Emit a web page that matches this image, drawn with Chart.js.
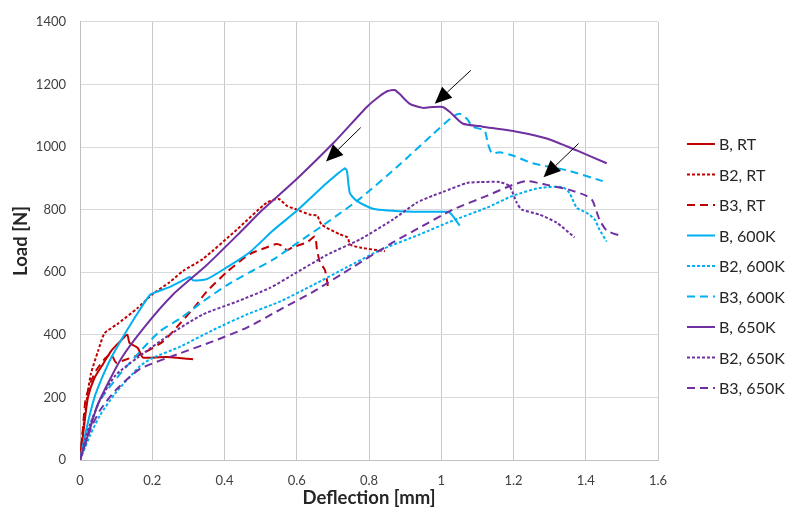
<!DOCTYPE html>
<html><head><meta charset="utf-8">
<script src="https://cdn.jsdelivr.net/npm/chart.js@4.4.1/dist/chart.umd.min.js"></script>
<style>html,body{margin:0;padding:0;background:#fff}#wrap{width:792px;height:515px}</style>
</head><body><div id="wrap"><canvas id="c" width="792" height="515"></canvas></div>
<script>
// ---- data (Deflection [mm], Load [N]) ----
const seriesNames = ['B, RT','B2, RT','B3, RT','B, 600K','B2, 600K','B3, 600K','B, 650K','B2, 650K','B3, 650K'];
const xTickLabels = ['0','0.2','0.4','0.6','0.8','1','1.2','1.4','1.6'];
const yTickLabels = ['0','200','400','600','800','1000','1200','1400'];

const bRT_x = [0,0.010,0.022,0.040,0.064,0.086,0.111,0.131,0.137,0.160,0.168,0.174,0.193,0.241,0.313];
const bRT_y = [0,95,200,262,307,348,379,400,374,358,338,327,327,329,322];

const b2RT_x = [0,0.006,0.013,0.021,0.030,0.050,0.068,0.102,0.158,0.199,0.249,0.285,0.340,0.434,0.517,0.550,0.573,0.600,0.636,0.656,0.669,0.719,0.741,0.747,0.775,0.844];
const b2RT_y = [0,70,140,210,275,348,405,433,484,528,569,604,642,736,822,834,812,800,784,781,752,721,711,689,679,667];

const b3RT_x = [0,0.008,0.015,0.030,0.047,0.070,0.086,0.100,0.120,0.174,0.230,0.277,0.318,0.350,0.406,0.470,0.516,0.544,0.562,0.573,0.589,0.628,0.650,0.656,0.664,0.678,0.686];
const b3RT_y = [0,100,190,250,290,325,338,311,318,341,379,436,490,537,600,658,679,690,683,670,680,695,714,673,632,607,556];

const b600_x = [0,0.020,0.040,0.060,0.086,0.133,0.166,0.194,0.212,0.249,0.277,0.304,0.313,0.351,0.407,0.470,0.534,0.600,0.683,0.733,0.739,0.747,0.766,0.811,0.921,1.018,1.029,1.051];
const b600_y = [0,110,200,260,326,420,481,528,537,553,569,585,574,578,616,664,733,796,885,932,923,853,828,803,793,793,784,749];

const b2600_x = [0,0.028,0.055,0.097,0.166,0.199,0.277,0.368,0.462,0.553,0.645,0.739,0.830,0.941,1.032,1.126,1.198,1.272,1.336,1.355,1.375,1.402,1.425,1.438,1.458];
const b2600_y = [0,79,142,212,300,325,362,415,465,506,559,616,670,721,765,806,844,869,872,853,806,790,768,736,698];

const b3600_x = [0,0.028,0.055,0.111,0.172,0.221,0.277,0.340,0.407,0.470,0.534,0.600,0.683,0.775,0.885,0.976,1.032,1.051,1.071,1.087,1.120,1.129,1.140,1.162,1.198,1.253,1.347,1.447];
const b3600_y = [0,111,190,275,354,411,452,506,559,600,640,692,758,835,944,1040,1097,1106,1090,1065,1052,1011,980,983,973,948,926,891];

const b650_x = [0,0.025,0.050,0.113,0.180,0.257,0.351,0.443,0.506,0.600,0.700,0.794,0.830,0.852,0.871,0.885,0.913,0.949,0.977,1.004,1.024,1.059,1.115,1.209,1.292,1.375,1.458];
const b650_y = [0,90,180,322,427,528,623,727,800,898,1011,1128,1163,1179,1182,1169,1138,1125,1128,1128,1112,1075,1065,1049,1027,989,948];

const b2650_x = [0,0.022,0.055,0.097,0.158,0.249,0.340,0.434,0.526,0.589,0.683,0.775,0.866,0.932,0.976,1.004,1.071,1.107,1.162,1.189,1.209,1.223,1.272,1.320,1.369];
const b2650_y = [0,95,190,269,326,401,465,506,550,592,655,705,768,822,844,856,885,888,888,875,822,800,784,758,711];

const b3650_x = [0,0.028,0.055,0.097,0.166,0.277,0.368,0.462,0.553,0.645,0.755,0.866,0.941,1.032,1.126,1.198,1.237,1.292,1.355,1.402,1.419,1.438,1.458,1.494];
const b3650_y = [0,95,158,221,291,341,379,423,480,537,616,695,743,800,844,879,891,879,863,844,828,768,733,717];

// arrows: tail -> head (data coordinates)
const arrowTailX = [0.777,1.082,1.380];
const arrowTailY = [1062,1245,1011];
const arrowHeadX = [0.681,0.982,1.283];
const arrowHeadY = [954,1138,903];

// ---- styles ----
const RED = '#C00000', BLUE = '#00B0F0', PURPLE = '#7030A0';
const seriesX = [bRT_x,b2RT_x,b3RT_x,b600_x,b2600_x,b3600_x,b650_x,b2650_x,b3650_x];
const seriesY = [bRT_y,b2RT_y,b3RT_y,b600_y,b2600_y,b3600_y,b650_y,b2650_y,b3650_y];
const colors = [RED,RED,RED,BLUE,BLUE,BLUE,PURPLE,PURPLE,PURPLE];
const dashes = [[],[3,2],[8,5],[],[3,2],[8,5],[],[3,2],[8,5]];

const datasets = seriesNames.map((name,i)=>({
  label: name,
  data: seriesX[i].map((x,j)=>({x:x, y:seriesY[i][j]})),
  showLine: true,
  borderColor: colors[i],
  backgroundColor: colors[i],
  borderWidth: 2,
  borderDash: dashes[i],
  pointRadius: 0,
  pointHoverRadius: 0,
  tension: 0.2,
  order: seriesNames.length - i
}));

const FONT = 'Lato, "Open Sans", sans-serif';

const arrowPlugin = {
  id: 'arrows',
  afterDatasetsDraw(chart){
    const {ctx, scales:{x, y}} = chart;
    ctx.save();
    for (let i=0;i<arrowTailX.length;i++){
      const x1 = x.getPixelForValue(arrowTailX[i]), y1 = y.getPixelForValue(arrowTailY[i]);
      const x2 = x.getPixelForValue(arrowHeadX[i]), y2 = y.getPixelForValue(arrowHeadY[i]);
      const ang = Math.atan2(y2-y1, x2-x1);
      const L = 17, W = 7.5;
      const bx = x2 - L*Math.cos(ang), by = y2 - L*Math.sin(ang);
      ctx.strokeStyle = '#000'; ctx.lineWidth = 1; ctx.setLineDash([]);
      ctx.beginPath(); ctx.moveTo(x1,y1); ctx.lineTo(bx,by); ctx.stroke();
      ctx.fillStyle = '#000';
      ctx.beginPath();
      ctx.moveTo(x2,y2);
      ctx.lineTo(bx + W*Math.sin(ang), by - W*Math.cos(ang));
      ctx.lineTo(bx - W*Math.sin(ang), by + W*Math.cos(ang));
      ctx.closePath(); ctx.fill();
    }
    ctx.restore();
  }
};

const legendPlugin = {
  id: 'sideLegend',
  afterDraw(chart){
    const ctx = chart.ctx;
    ctx.save();
    chart.data.datasets.forEach((ds,i)=>{
      const yy = 144 + i*30.5;
      ctx.strokeStyle = ds.borderColor; ctx.lineWidth = 2; ctx.setLineDash(ds.borderDash);
      ctx.beginPath(); ctx.moveTo(687,yy); ctx.lineTo(715,yy); ctx.stroke();
      ctx.setLineDash([]);
      ctx.fillStyle = '#262626'; ctx.font = '16px ' + FONT;
      ctx.textBaseline = 'middle'; ctx.textAlign = 'left';
      ctx.fillText(ds.label, 719, yy+1);
    });
    ctx.restore();
  }
};

new Chart(document.getElementById('c'), {
  type: 'scatter',
  data: { datasets },
  plugins: [arrowPlugin, legendPlugin],
  options: {
    responsive: false,
    animation: false,
    devicePixelRatio: 1,
    layout: { padding: { top: 17, right: 134, bottom: 0, left: 0 } },
    plugins: { legend: { display: false }, tooltip: { enabled: false } },
    scales: {
      x: {
        type: 'linear', min: 0, max: 1.6,
        afterFit: s => { s.height = 55; },
        ticks: { stepSize: 0.2, padding: 13, color: '#404040', font: { family: FONT, size: 13 },
                 callback: (v, i) => xTickLabels[i] },
        grid: { color: '#C8C8C8', drawTicks: false },
        border: { color: '#BFBFBF' },
        title: { display: true, text: 'Deflection [mm]', color: '#262626',
                 font: { family: FONT, size: 18.5, weight: 'bold' }, padding: { top: 0, bottom: 6 } }
      },
      y: {
        type: 'linear', min: 0, max: 1400,
        afterFit: s => { s.width = 80; },
        ticks: { stepSize: 200, padding: 14, color: '#404040', font: { family: FONT, size: 13 },
                 callback: (v, i) => yTickLabels[i] },
        grid: { color: '#D9D9D9', drawTicks: false },
        border: { color: '#BFBFBF' },
        title: { display: true, text: 'Load [N]', color: '#262626',
                 font: { family: FONT, size: 18.5, weight: 'bold' }, padding: { top: 10, bottom: 0 } }
      }
    }
  }
});
</script>
</body></html>
